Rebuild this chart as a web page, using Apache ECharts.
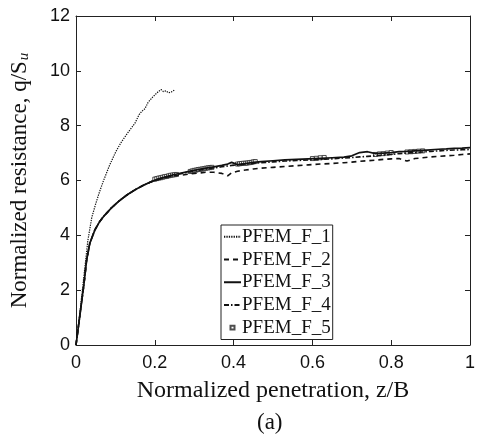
<!DOCTYPE html>
<html><head><meta charset="utf-8">
<script src="https://cdn.jsdelivr.net/npm/echarts@6/dist/echarts.min.js"></script>
<style>html,body{margin:0;padding:0;background:#fff}#c{width:478px;height:445px}</style>
</head><body><div id="c"></div>
<script>
const xTicks = [0, 0.2, 0.4, 0.6, 0.8, 1];
const yTicks = [0, 2, 4, 6, 8, 10, 12];
const names = ['PFEM_F_1','PFEM_F_2','PFEM_F_3','PFEM_F_4','PFEM_F_5'];

const z1 = [0,0.01,0.02,0.03,0.04,0.05,0.06,0.07,0.085,0.101,0.115,0.131,0.15,0.16,0.167,0.175,0.183,0.195,0.208,0.216,0.222,0.228,0.235,0.242,0.25];
const q1 = [0,1.2,2.5,3.8,4.65,5.15,5.6,6.0,6.55,7.05,7.4,7.73,8.1,8.4,8.52,8.62,8.85,9.05,9.23,9.32,9.24,9.27,9.2,9.23,9.3];

const zBase = [0,0.01,0.015,0.02,0.027,0.035,0.048,0.06,0.072,0.09,0.109,0.13,0.15,0.17,0.19,0.21,0.23,0.25,0.27,0.29,0.31,0.33,0.35,0.37,0.385,0.395,0.41,0.43,0.45,0.47,0.5,0.53,0.56,0.59,0.62,0.65,0.68,0.7,0.72,0.74,0.76,0.78,0.8,0.82,0.84,0.86,0.88,0.9,0.92,0.94,0.96,0.98,1.0];
const q2 = [0,1.1,1.65,2.2,3.1,3.71,4.2,4.5,4.72,5.0,5.25,5.48,5.66,5.82,5.95,6.05,6.12,6.18,6.2,6.24,6.27,6.3,6.3,6.26,6.17,6.28,6.34,6.38,6.42,6.45,6.48,6.51,6.54,6.57,6.6,6.62,6.65,6.67,6.7,6.72,6.74,6.77,6.79,6.8,6.71,6.8,6.83,6.86,6.88,6.9,6.92,6.95,6.97];
const q3 = [0,1.1,1.65,2.2,3.1,3.71,4.2,4.5,4.72,5.0,5.25,5.48,5.66,5.82,5.95,6.06,6.14,6.22,6.28,6.34,6.4,6.45,6.5,6.55,6.6,6.66,6.58,6.62,6.66,6.69,6.72,6.75,6.77,6.79,6.81,6.83,6.85,6.9,7.02,7.05,6.98,7.0,7.02,7.05,7.06,7.08,7.1,7.12,7.14,7.15,7.17,7.18,7.2];
const q4 = [0,1.1,1.65,2.2,3.1,3.71,4.2,4.5,4.72,5.0,5.25,5.48,5.66,5.82,5.95,6.05,6.13,6.2,6.26,6.32,6.37,6.42,6.46,6.5,6.53,6.55,6.57,6.6,6.63,6.65,6.68,6.71,6.73,6.75,6.77,6.79,6.82,6.84,6.86,6.88,6.9,6.93,6.95,6.98,7.0,7.02,7.04,7.06,7.08,7.1,7.11,7.12,7.13];

const z5 = [0.2,0.205,0.21,0.215,0.22,0.225,0.23,0.235,0.24,0.245,0.25,0.255,0.29,0.295,0.3,0.305,0.31,0.315,0.32,0.325,0.33,0.335,0.34,0.345,0.41,0.415,0.42,0.425,0.43,0.435,0.44,0.445,0.45,0.455,0.6,0.61,0.62,0.63,0.76,0.77,0.78,0.79,0.8,0.84,0.85,0.86,0.87,0.88];
const q5 = [6.05,6.07,6.09,6.1,6.12,6.14,6.15,6.17,6.19,6.2,6.21,6.22,6.33,6.35,6.37,6.38,6.4,6.41,6.42,6.43,6.45,6.46,6.47,6.48,6.6,6.61,6.62,6.63,6.63,6.64,6.65,6.66,6.68,6.69,6.8,6.81,6.83,6.84,6.95,6.97,6.98,7.0,7.02,7.04,7.05,7.06,7.07,7.08];

const pair = (xs, ys) => xs.map((x, i) => [x, ys[i]]);
const serif = '"Liberation Serif","Times New Roman",serif';
const sans = '"Liberation Sans",Arial,sans-serif';

const chart = echarts.init(document.getElementById('c'), null, {renderer: 'canvas'});
const axisCommon = {
  axisLine: {show: true, onZero: false, lineStyle: {color: '#222', width: 1}},
  axisTick: {show: true, inside: true, length: 5, lineStyle: {color: '#222'}},
  splitLine: {show: false}
};
chart.setOption({
  animation: false,
  backgroundColor: '#fff',
  grid: {left: 74, top: 16, width: 405, height: 329},
  xAxis: [
    Object.assign({type: 'value', min: 0, max: 1, interval: 0.2, position: 'bottom',
      axisLabel: {color: '#111', fontSize: 18, fontFamily: sans, margin: 9,
        formatter: v => xTicks.includes(+v.toFixed(1)) ? String(+v.toFixed(1)) : ''},
      name: 'Normalized penetration, z/B', nameLocation: 'middle', nameGap: 34,
      nameTextStyle: {fontFamily: serif, fontSize: 24, color: '#111'}}, axisCommon),
    Object.assign({type: 'value', min: 0, max: 1, interval: 0.2, position: 'top',
      axisLabel: {show: false}}, axisCommon)
  ],
  yAxis: [
    Object.assign({type: 'value', min: 0, max: 12, interval: 2, position: 'left',
      axisLabel: {color: '#111', fontSize: 18, fontFamily: sans, margin: 6,
        formatter: v => yTicks.includes(v) ? String(v) : ''},
      name: '{a|Normalized resistance, q/S}{b|u}', nameLocation: 'middle', nameGap: 44,
      nameTextStyle: {fontFamily: serif, fontSize: 23, color: '#111',
        rich: {a: {fontFamily: serif, fontSize: 23, color: '#111'},
               b: {fontFamily: serif, fontSize: 15, fontStyle: 'italic', color: '#111', padding: [10,0,0,1]}}}}, axisCommon),
    Object.assign({type: 'value', min: 0, max: 12, interval: 2, position: 'right',
      axisLabel: {show: false}}, axisCommon)
  ],
  legend: {
    orient: 'vertical', left: 221, top: 225,
    data: names.map((n, i) => i < 4 ? {name: n, itemStyle: {opacity: 0}}
      : {name: n, icon: 'path://M0,0M17,4M6.5,0.2L10.5,0.2L10.5,3.8L6.5,3.8Z'}),
    backgroundColor: '#fff', borderColor: '#222', borderWidth: 1, borderRadius: 0,
    padding: [1, 2, 1, 2], itemGap: 1, itemWidth: 17, itemHeight: 4,
    textStyle: {fontFamily: serif, fontSize: 19, color: '#111', padding: [0, 0, 0, -4], lineHeight: 21.7}
  },
  graphic: [{type: 'text', left: 257, top: 411,
    style: {text: '(a)', font: '23px ' + serif, fill: '#111'}}],
  series: [
    {name: names[0], type: 'line', data: pair(z1, q1), showSymbol: false, symbol: 'none',
     lineStyle: {color: '#111', width: 1.2, type: [1.3, 1.1]}, itemStyle: {color: '#111'}},
    {name: names[1], type: 'line', data: pair(zBase, q2), showSymbol: false, symbol: 'none',
     lineStyle: {color: '#111', width: 1.6, type: [5, 4]}, itemStyle: {color: '#111'}},
    {name: names[2], type: 'line', data: pair(zBase, q3), showSymbol: false, symbol: 'none',
     lineStyle: {color: '#111', width: 1.7, type: 'solid'}, itemStyle: {color: '#111'}},
    {name: names[3], type: 'line', data: pair(zBase, q4), showSymbol: false, symbol: 'none',
     lineStyle: {color: '#111', width: 1.6, type: [5, 2, 1.5, 2]}, itemStyle: {color: '#111'}},
    {name: names[4], type: 'scatter', data: pair(z5, q5), symbol: 'rect', symbolSize: 4, symbolKeepAspect: true,
     itemStyle: {color: '#fff', borderColor: '#222', borderWidth: 1}}
  ]
});
</script></body></html>
